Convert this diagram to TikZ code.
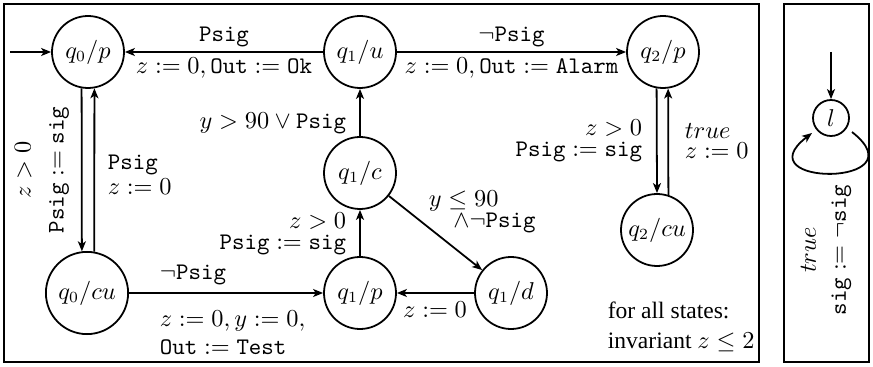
\documentclass[tikz,border=0pt]{standalone}
\usepackage{fontspec}
\newfontfamily\timesf{Liberation Serif}
\usetikzlibrary{arrows.meta}
\begin{document}
\begin{tikzpicture}[x=0.45pt,y=-0.45pt,
  every node/.style={font=\fontsize{10.7pt}{12.8pt}\selectfont},
  st/.style={circle,draw,line width=0.8pt,minimum size=32.4pt,inner sep=1pt},
  arr/.style={line width=0.8pt,-{Stealth[length=4.5pt,width=3.6pt,inset=1.2pt]}},
  box/.style={line width=1pt},
  lab/.style={inner sep=2pt}]
\useasboundingbox (0,0) rectangle (873,367);
\draw[box] (4,4) rectangle (759,362);
\draw[box] (784,4) rectangle (869,362);

\node[st] (q0p) at (88,52) {$q_0/p$};
\node[st] (q1u) at (360,52) {$q_1/u$};
\node[st] (q2p) at (663,52) {$q_2/p$};
\node[st] (q1c) at (360,173) {$q_1/c$};
\node[st,minimum size=37pt] (q0cu) at (87,293) {$q_0/cu$};
\node[st] (q1p) at (360,293) {$q_1/p$};
\node[st] (q1d) at (511,293) {$q_1/d$};
\node[st] (q2cu) at (657,230) {$q_2/cu$};

\coordinate (init) at (10,52);
\draw[arr] (init) -- (q0p);
\draw[arr] (q1u) -- node[lab,above] (lpsig) {$\mathtt{Psig}$}
  node[lab,below] (lok) {$z := 0, \mathtt{Out} := \mathtt{Ok}$} (q0p);
\draw[arr] (q1u) -- node[lab,above] (lnpsig) {$\neg\mathtt{Psig}$}
  node[lab,below] (lalarm) {$z := 0, \mathtt{Out} := \mathtt{Alarm}$} (q2p);

\draw[arr] (q0p.260) -- (q0cu.97);
\draw[arr] (q0cu.80) -- (q0p.280);
\node[rotate=90,align=center] (la) at (42,170) {$z > 0$\\[2.1pt]$\mathtt{Psig} := \mathtt{sig}$};
\node[align=left,anchor=west] (lb) at (100,175) {$\mathtt{Psig}$\\[-1.5pt]$z := 0$};

\draw[arr] (q0cu) -- (q1p);
\node[anchor=west] (lc) at (152,275) {$\neg\mathtt{Psig}$};
\node[align=left,anchor=north west] (ld) at (152,303) {$z := 0, y := 0,$\\[-0.2pt]$\mathtt{Out} := \mathtt{Test}$};

\draw[arr] (q1p) -- (q1c);
\node[align=right,anchor=east] (le) at (354,234) {$z > 0$\\[-3.6pt]$\mathtt{Psig} := \mathtt{sig}$};

\draw[arr] (q1c) -- (q1u);
\node[anchor=east] (lf) at (354,123) {$y > 90 \vee \mathtt{Psig}$};

\draw[arr] (q1c) -- (q1d);
\node[align=left,anchor=west] (lg) at (421,212) {$y \leq 90$\\[-3.5pt]\hspace{11pt}$\wedge\neg\mathtt{Psig}$};

\draw[arr] (q1d) -- (q1p);
\node (lh) at (435,310) {$z := 0$};

\draw[arr] (q2p.260) -- (q2cu.north);
\draw[arr] (q2cu.72) -- (q2p.278);
\node[align=right,anchor=east] (li) at (650,141) {$z > 0$\\[-3.6pt]$\mathtt{Psig} := \mathtt{sig}$};
\node[align=left,anchor=west] (lj) at (677,141) {$true$\\[-3.6pt]$z := 0$};

\node[align=left,anchor=west,font=\fontsize{10.6pt}{13.5pt}\timesf] (note) at (600,327) {for all states:\\invariant $z \leq 2$};

\node[st,minimum size=16.2pt] (l) at (831,118) {$l$};
\coordinate (linit) at (831,52);
\draw[arr] (linit) -- (l);
\draw[arr] ([shift={(21,14)}]l.center) .. controls +(70,55) and +(-70,54) .. ([shift={(-19,15)}]l.center);
\node[rotate=90,align=center] (sl) at (826,250) {$true$\\[0.7pt]$\mathtt{sig} := \neg\mathtt{sig}$};
\end{tikzpicture}
\end{document}
